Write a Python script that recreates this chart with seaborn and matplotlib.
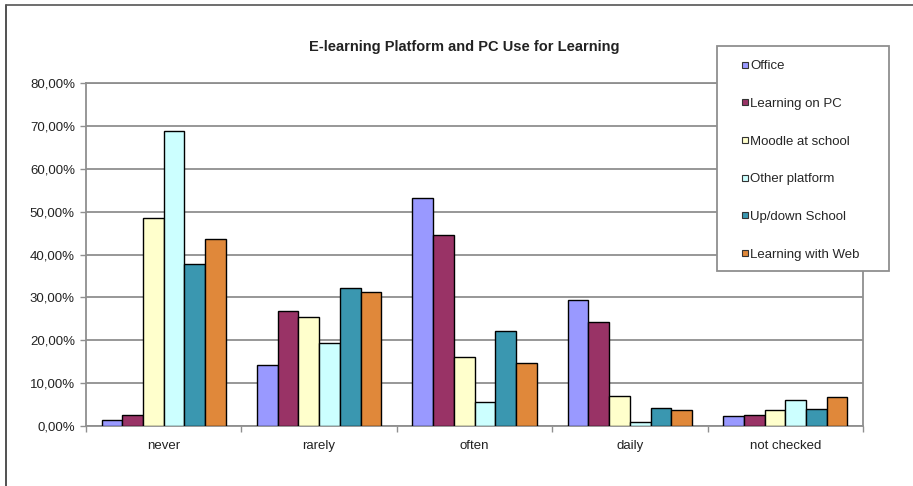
import matplotlib
matplotlib.use("Agg")
import matplotlib.pyplot as plt
import matplotlib.ticker as mticker
from matplotlib.patches import Rectangle
from matplotlib.lines import Line2D
import seaborn as sns
import pandas as pd
import numpy as np

categories = ["never", "rarely", "often", "daily", "not checked"]
series = ["Office", "Learning on PC", "Moodle at school", "Other platform",
          "Up/down School", "Learning with Web"]

office = [1.4, 14.2, 53.2, 29.3, 2.3]
learning_pc = [2.6, 26.9, 44.5, 24.2, 2.6]
moodle = [48.5, 25.5, 16.2, 7.0, 3.8]
other_platform = [68.7, 19.3, 5.7, 1.0, 6.0]
updown_school = [37.8, 32.3, 22.2, 4.2, 3.9]
learning_web = [43.7, 31.3, 14.7, 3.8, 6.8]

colors = ["#9999FF", "#993366", "#FFFFCC", "#CCFFFF", "#3A97B0", "#E0883A"]

values = [office, learning_pc, moodle, other_platform, updown_school, learning_web]
df = pd.DataFrame([
    {"category": c, "series": s, "value": v / 100.0}
    for s, vals in zip(series, values)
    for c, v in zip(categories, vals)
])

sns.set_theme(style="white")
plt.rcParams["font.family"] = ["Liberation Sans", "DejaVu Sans"]

W, H = 913, 486
fig = plt.figure(figsize=(W / 100, H / 100), dpi=100)
ax = fig.add_axes([86 / W, 1 - 426 / H, (863 - 86) / W, (426 - 83) / H])

sns.barplot(data=df, x="category", y="value", hue="series",
            order=categories, hue_order=series, palette=colors,
            width=0.8, gap=0, edgecolor="black", linewidth=1.0,
            saturation=1, legend=False, ax=ax, zorder=3)

ax.set_ylim(0, 0.8)
ax.set_xlim(-0.5, len(categories) - 0.5)
ax.yaxis.set_major_locator(mticker.MultipleLocator(0.1))
ax.yaxis.set_major_formatter(
    mticker.FuncFormatter(lambda v, p: f"{v * 100:.2f}%".replace(".", ",")))
ax.grid(axis="y", color="#8f8f8f", linewidth=1.3, zorder=0)
ax.set_axisbelow(True)

grey = "#8f8f8f"
for side in ["left", "bottom", "right", "top"]:
    ax.spines[side].set_visible(True)
    ax.spines[side].set_color(grey)
    ax.spines[side].set_linewidth(1.3)

ax.set_xlabel("")
ax.set_ylabel("")
ax.set_xticks(range(len(categories)))
ax.set_xticklabels(categories)
ax.set_xticks(np.arange(-0.5, len(categories), 1.0), minor=True)
ax.tick_params(axis="x", which="major", length=0, pad=10, labelsize=9.5, colors="#222222")
ax.tick_params(axis="x", which="minor", length=4, width=1, color=grey, direction="out")
ax.tick_params(axis="y", which="major", length=4, width=1, color=grey, direction="out",
               pad=4, labelsize=9.5, labelcolor="#222222")
ax.tick_params(left=True, bottom=True)
ax.xaxis.set_tick_params(which="minor", bottom=True)

fig.text(464 / W, 1 - 47 / H, "E-learning Platform and PC Use for Learning",
         ha="center", va="center", fontsize=10.5, fontweight="bold", color="#222222")

# legend box
lx0, ly0, lx1, ly1 = 717, 46, 889, 271
fig.patches.append(Rectangle((lx0 / W, 1 - ly1 / H), (lx1 - lx0) / W, (ly1 - ly0) / H,
                             transform=fig.transFigure, facecolor="white",
                             edgecolor=grey, linewidth=1.3, zorder=5))
handles = [Line2D([0], [0], marker="s", linestyle="none", markersize=5,
                  markerfacecolor=c, markeredgecolor="#333333", markeredgewidth=0.8)
           for c in colors]
leg = fig.legend(handles, series, loc="upper left",
                 bbox_to_anchor=(741 / W, 1 - 60 / H), frameon=False,
                 fontsize=9.5, handlelength=0.6, handletextpad=0.1,
                 labelspacing=1.93, borderpad=0, borderaxespad=0)
leg.set_zorder(6)

# outer frame
fig.add_artist(Line2D([6 / W, 6 / W], [0, 1 - 5 / H], transform=fig.transFigure,
                      color="#333333", linewidth=1.2))
fig.add_artist(Line2D([6 / W, 1], [1 - 5 / H, 1 - 5 / H], transform=fig.transFigure,
                      color="#555555", linewidth=1.2))

fig.savefig("out.png", dpi=100, facecolor="white")
